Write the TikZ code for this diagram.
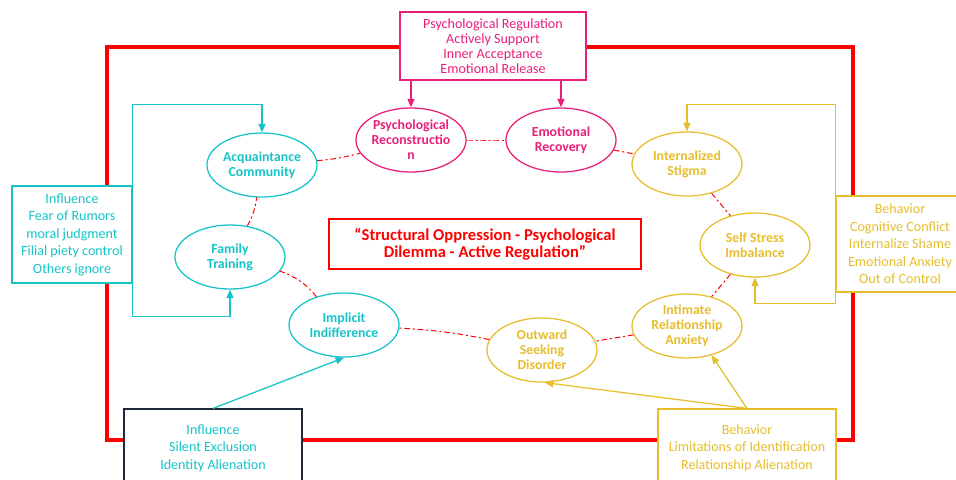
\documentclass[tikz,border=0pt]{standalone}
\usepackage{fontspec}
\setmainfont{Carlito}
\usepackage{xcolor}
\usetikzlibrary{shapes, arrows, positioning, arrows.meta, calc}

\definecolor{cyanc}{RGB}{22,196,200}
\definecolor{pinkc}{RGB}{232,32,122}
\definecolor{yelc}{RGB}{230,190,45}
\definecolor{framered}{RGB}{255,0,0}
\definecolor{darkb}{RGB}{30,40,55}

\begin{document}
\begin{tikzpicture}[x=0.025cm, y=-0.025cm,
    oval/.style={ellipse, draw, line width=0.9pt, fill=white, inner sep=0pt, inner xsep=-3pt,
        minimum width=2.75cm, minimum height=1.6cm, align=center,
        font=\fontsize{9.8}{10.7}\selectfont\bfseries},
    infobox/.style={rectangle, draw, line width=0.8pt, fill=white, align=center,
        font=\fontsize{10}{12.4}\selectfont},
    link/.style={draw=framered, line width=0.7pt, dash pattern=on 4pt off 2pt on 1.5pt off 2pt},
    tip/.style={-{Triangle[length=6pt, width=5pt]}, line width=0.9pt}
]
    \clip (0,0) rectangle (956,480);

    % outer frame
    \draw[framered, line width=3.5pt] (107,47) rectangle (853,440);

    % core statement
    \node[draw=framered, line width=0.8pt, fill=white, text=framered, align=center,
        minimum width=7.8cm, minimum height=1.25cm,
        font=\fontsize{11.8}{12.2}\selectfont\bfseries] (core) at (485,244)
        {``Structural Oppression - Psychological\\Dilemma - Active Regulation''};

    % ellipses
    \node[oval, draw=pinkc, text=pinkc] (recon) at (411,140) {Psychological\\Reconstructio\\n};
    \node[oval, draw=pinkc, text=pinkc] (recov) at (561,140) {Emotional\\Recovery};
    \node[oval, draw=yelc, text=yelc] (stigma) at (687,164) {Internalized\\Stigma};
    \node[oval, draw=yelc, text=yelc] (stress) at (755,245) {Self Stress\\Imbalance};
    \node[oval, draw=yelc, text=yelc] (intim) at (687,326) {Intimate\\Relationship\\Anxiety};
    \node[oval, draw=yelc, text=yelc] (outward) at (542,350) {Outward\\Seeking\\Disorder};
    \node[oval, draw=cyanc, text=cyanc] (implicit) at (344,325) {Implicit\\Indifference};
    \node[oval, draw=cyanc, text=cyanc] (family) at (230,257) {Family\\Training};
    \node[oval, draw=cyanc, text=cyanc] (acquaint) at (262,165) {Acquaintance\\Community};

    % dashed ring
    \foreach \a/\b/\k in {acquaint/recon/-5, recon/recov/0, recov/stigma/0, stigma/stress/0,
        stress/intim/0, intim/outward/0, outward/implicit/-4, implicit/family/-15, family/acquaint/-10}
        \draw[link] (\a) to[bend left=\k] (\b);

    % text boxes
    \node[infobox, draw=pinkc, text=pinkc, minimum width=4.65cm, minimum height=1.7cm,
        font=\fontsize{10}{10.7}\selectfont] (regul) at (493,46)
        {Psychological Regulation\\Actively Support\\Inner Acceptance\\Emotional Release};
    \node[infobox, draw=cyanc, text=cyanc, minimum width=3cm, minimum height=2.425cm] (rumor) at (72,234.5)
        {Influence\\Fear of Rumors\\moral judgment\\Filial piety control\\Others ignore};
    \node[infobox, draw=darkb, text=cyanc, minimum width=4.45cm, minimum height=1.95cm] (silent) at (213,448)
        {Influence\\Silent Exclusion\\Identity Alienation};
    \node[infobox, draw=yelc, text=yelc, minimum width=3.2cm, minimum height=2.4cm] (conflict) at (900,244)
        {Behavior\\Cognitive Conflict\\Internalize Shame\\Emotional Anxiety\\Out of Control};
    \node[infobox, draw=yelc, text=yelc, minimum width=4.45cm, minimum height=1.95cm] (limit) at (747,448)
        {Behavior\\Limitations of Identification\\Relationship Alienation};

    % arrows
    \draw[tip, pinkc] (regul.south -| recon.north) -- (recon.north);
    \draw[tip, pinkc] (regul.south -| recov.north) -- (recov.north);
    \draw[tip, cyanc] (rumor.north east) -- ++(0,-81) -| (acquaint.north);
    \draw[tip, cyanc] (rumor.south east) -- ++(0,33) -| (family.south);
    \draw[tip, cyanc] (silent.north) -- (implicit.south);
    \draw[tip, yelc] (conflict.north west) -- ++(0,-91) -| (stigma.north);
    \draw[tip, yelc] (conflict.south west) -- ++(0,11) -| (stress.south);
    \draw[tip, yelc] (limit.north) -- (intim.-50);
    \draw[tip, yelc] (limit.north) -- (outward.-85);

\end{tikzpicture}
\end{document}
